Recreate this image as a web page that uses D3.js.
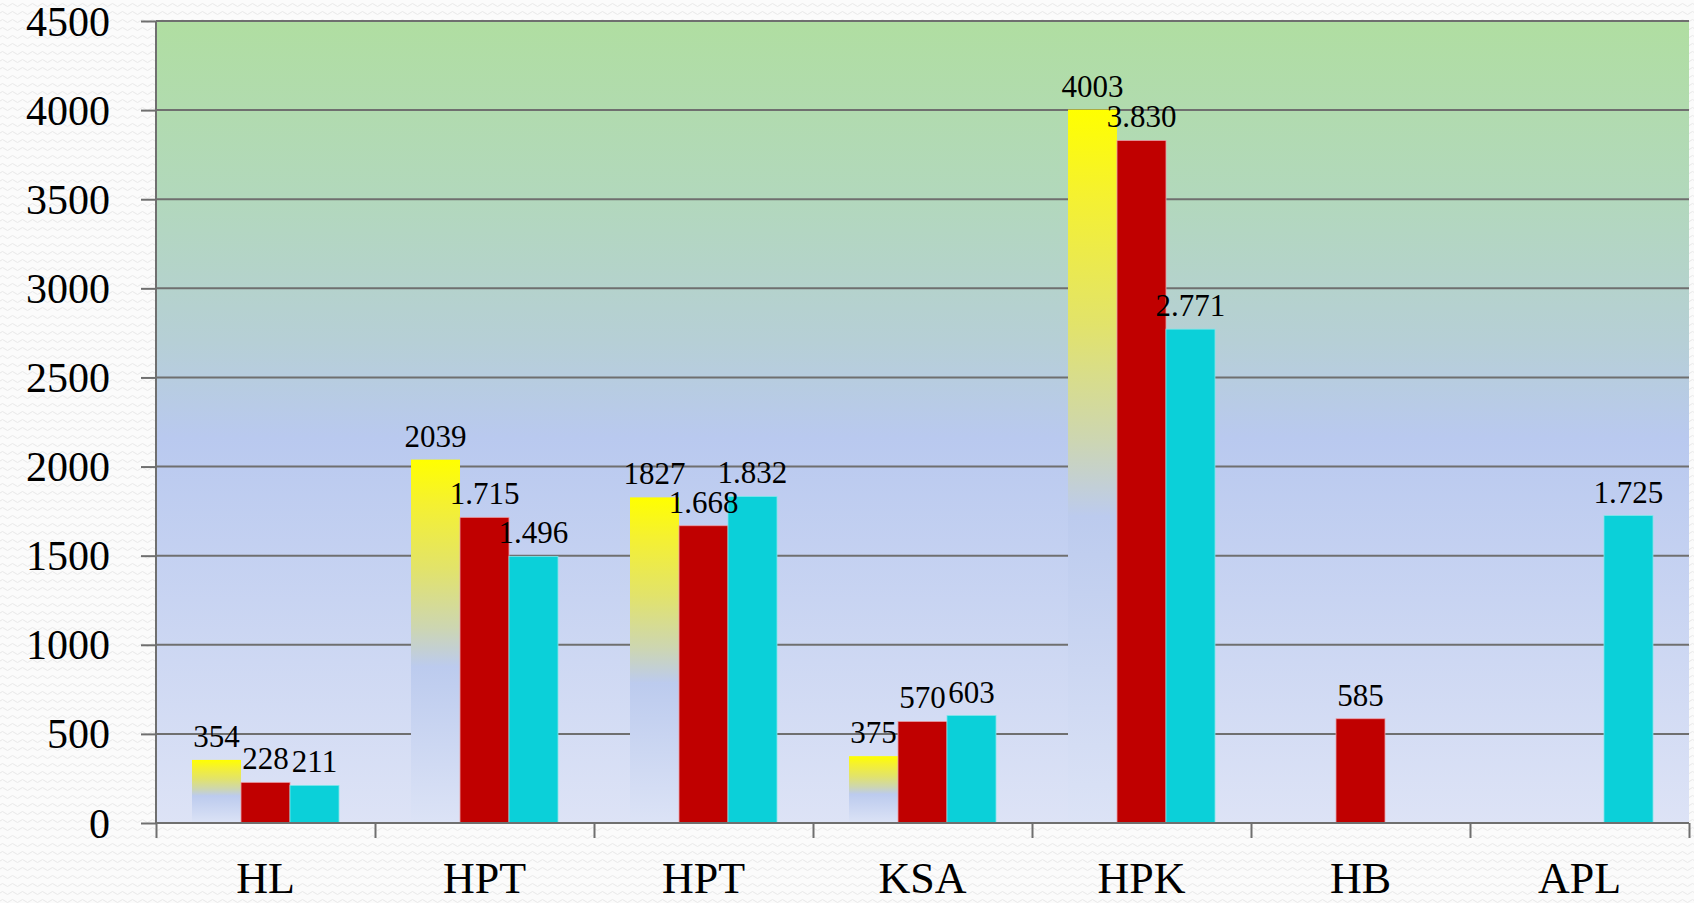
<!DOCTYPE html>
<html>
<head>
<meta charset="utf-8">
<script src="https://cdn.jsdelivr.net/npm/d3@7"></script>
<style>
  html, body { margin: 0; padding: 0; background: #fbfbfb; }
  svg { display: block; }
  text { font-family: "Liberation Serif", "DejaVu Serif", serif; fill: #000; }
</style>
</head>
<body>
<svg id="chart" width="1694" height="903"></svg>
<script>
// Category labels along the bottom axis (two groups share the label "HPT")
const categories = ["HL", "HPT", "HPT", "KSA", "HPK", "HB", "APL"];

// Three series, one value per category (null = no bar)
const seriesNames = ["s1", "s2", "s3"];
const seriesA = [354, 2039, 1827, 375, 4003, null, null];
const seriesB = [228, 1715, 1668, 570, 3830, 585, null];
const seriesC = [211, 1496, 1832, 603, 2771, null, 1725];

// Value axis ticks
const yTicks = [0, 500, 1000, 1500, 2000, 2500, 3000, 3500, 4000, 4500];

const W = 1694, H = 903;
const margin = { left: 156, right: 5, top: 21, bottom: 80 };
const plotL = margin.left, plotR = W - margin.right;
const plotT = margin.top, plotB = H - margin.bottom;

const svg = d3.select("#chart");
const defs = svg.append("defs");

// Page texture: faint wavy rows
const pat = defs.append("pattern").attr("id", "paper")
  .attr("width", 10).attr("height", 8).attr("patternUnits", "userSpaceOnUse");
pat.append("rect").attr("width", 10).attr("height", 8).attr("fill", "#fbfbfb");
pat.append("path").attr("d", "M0 5 Q2.5 2 5 5 T10 5")
  .attr("fill", "none").attr("stroke", "#e9e9e9").attr("stroke-width", 1);
svg.append("rect").attr("width", W).attr("height", H).attr("fill", "url(#paper)");

// Plot background: green at the top blending into pale blue
const bg = defs.append("linearGradient").attr("id", "plotBg")
  .attr("x1", 0).attr("y1", 0).attr("x2", 0).attr("y2", 1);
[[0, "#b0dea1"], [0.22, "#b2d8bc"], [0.4, "#b6cfd6"], [0.52, "#b9c9ef"], [1, "#dde3f6"]]
  .forEach(([o, c]) => bg.append("stop").attr("offset", o).attr("stop-color", c));

// First series fill: yellow at the top fading into blue
const yg = defs.append("linearGradient").attr("id", "yellowFade")
  .attr("x1", 0).attr("y1", 0).attr("x2", 0).attr("y2", 1);
[[0, "#ffff00"], [0.12, "#f5f130"], [0.3, "#e2e36a"], [0.46, "#cdd6b0"], [0.57, "#bccbee"], [1, "#dce3f6"]]
  .forEach(([o, c]) => yg.append("stop").attr("offset", o).attr("stop-color", c));

const fills = { s1: "url(#yellowFade)", s2: "#c00000", s3: "#0bd0d9" };
const strokes = { s1: "none", s2: "#e8a0a8", s3: "#7fe6ea" };

// Scales
const x0 = d3.scaleBand().domain(d3.range(categories.length)).range([plotL, plotR]).padding(0);
const x1 = d3.scaleBand().domain(seriesNames).range([0, x0.bandwidth()])
  .paddingInner(0).paddingOuter(0.735);
const y = d3.scaleLinear().domain([0, 4500]).range([plotB, plotT]);

svg.append("rect")
  .attr("x", plotL).attr("y", plotT)
  .attr("width", plotR - plotL).attr("height", plotB - plotT)
  .attr("fill", "url(#plotBg)");

// Horizontal gridlines
svg.append("g").selectAll("line").data(yTicks).join("line")
  .attr("x1", plotL).attr("x2", plotR)
  .attr("y1", d => y(d)).attr("y2", d => y(d))
  .attr("stroke", "#6f6f6f").attr("stroke-width", 2);

// Bars
const rows = categories.map((c, i) => ({
  i,
  vals: [
    { s: "s1", v: seriesA[i], fmt: d3.format("d") },
    { s: "s2", v: seriesB[i], fmt: v => d3.format(",")(v).replace(/,/g, ".") },
    { s: "s3", v: seriesC[i], fmt: v => d3.format(",")(v).replace(/,/g, ".") }
  ].filter(d => d.v != null)
}));

const groups = svg.append("g").selectAll("g").data(rows).join("g")
  .attr("transform", d => `translate(${x0(d.i)},0)`);

groups.selectAll("rect").data(d => d.vals).join("rect")
  .attr("x", d => x1(d.s))
  .attr("y", d => y(d.v))
  .attr("width", x1.bandwidth())
  .attr("height", d => y(0) - y(d.v))
  .attr("fill", d => fills[d.s])
  .attr("stroke", d => strokes[d.s])
  .attr("stroke-width", 0.8);

// Value labels above each bar
groups.selectAll("text").data(d => d.vals).join("text")
  .attr("x", d => x1(d.s) + x1.bandwidth() / 2)
  .attr("y", d => y(d.v) - 13)
  .attr("text-anchor", "middle")
  .attr("font-size", 31)
  .text(d => d.fmt(d.v));

// Value axis
const yAxis = svg.append("g")
  .attr("transform", `translate(${plotL},0)`)
  .call(d3.axisLeft(y).tickValues(yTicks).tickSize(15).tickPadding(31).tickFormat(d3.format("d")));
yAxis.select(".domain").attr("stroke", "#6f6f6f").attr("stroke-width", 2)
  .attr("d", `M0,${plotT}V${plotB}`);
yAxis.selectAll(".tick line").attr("stroke", "#6f6f6f").attr("stroke-width", 2);
yAxis.selectAll(".tick text")
  .attr("font-size", 42)
  .attr("font-family", "Liberation Serif, serif")
  .attr("fill", "#000")
  .attr("dy", null)
  .attr("y", 14);

// Category axis: ticks at group boundaries, labels centred in each group
const xEdges = d3.scaleLinear().domain([0, categories.length]).range([plotL, plotR]);
const xAxis = svg.append("g")
  .attr("transform", `translate(0,${plotB})`)
  .call(d3.axisBottom(xEdges).tickValues(d3.range(categories.length + 1)).tickSize(15).tickFormat(""));
xAxis.select(".domain").attr("stroke", "#6f6f6f").attr("stroke-width", 2)
  .attr("d", `M${plotL},0H${plotR}`);
xAxis.selectAll(".tick line").attr("stroke", "#6f6f6f").attr("stroke-width", 2);

svg.append("g").selectAll("text").data(categories).join("text")
  .attr("x", (d, i) => x0(i) + x0.bandwidth() / 2)
  .attr("y", plotB + 70)
  .attr("text-anchor", "middle")
  .attr("font-size", 44)
  .text(d => d);
</script>
</body>
</html>
